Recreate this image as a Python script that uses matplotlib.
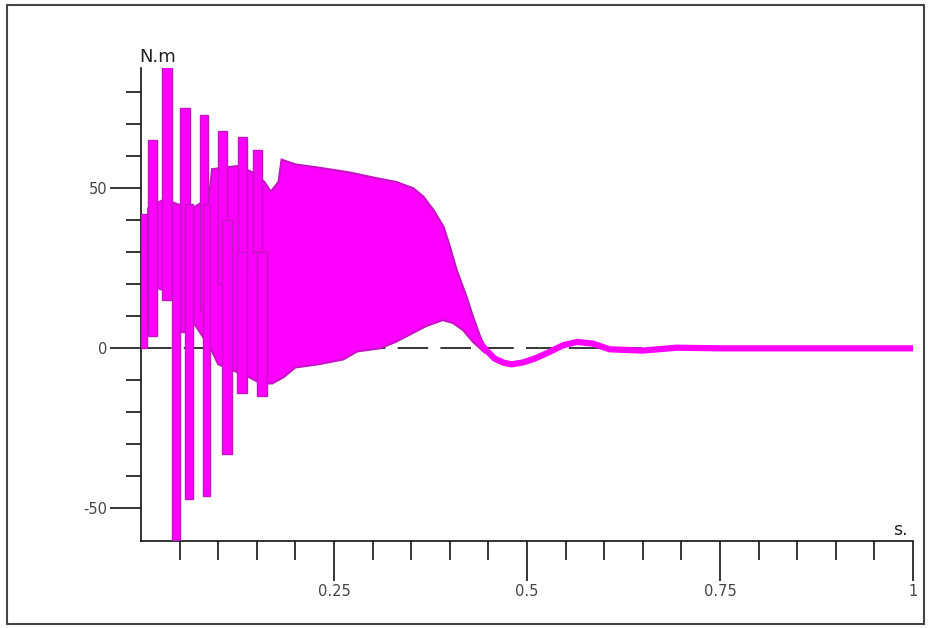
import matplotlib
matplotlib.use("Agg")
import matplotlib.pyplot as plt
from matplotlib.patches import Rectangle
import numpy as np

W, H = 929, 628
MAGENTA = "#ff00ff"
EDGE = "#c414c4"

# early start-up spikes: columns where the torque swings hard
UP_LEFT = [0.009, 0.027, 0.050, 0.076, 0.100, 0.126, 0.145]
UP_RIGHT = [0.021, 0.040, 0.063, 0.087, 0.111, 0.137, 0.157]
UP_TOP = [65, 88, 75, 73, 68, 66, 62]
UP_BOTTOM = [4, 15, 5, 12, 20, 25, 30]

DOWN_LEFT = [0.000, 0.040, 0.057, 0.080, 0.105, 0.124, 0.150]
DOWN_RIGHT = [0.008, 0.050, 0.067, 0.090, 0.118, 0.137, 0.163]
DOWN_TOP = [42, 45, 45, 45, 40, 30, 30]
DOWN_BOTTOM = [0, -60, -47, -46, -33, -14, -15]

# partly filled region between the first spikes
EARLY_T = [0.008, 0.030, 0.050, 0.068]
EARLY_HI = [44, 47, 45, 44]
EARLY_LO = [20, 18, 14, 10]

# envelope of the dense oscillation band
BAND_UP_T = [0.068, 0.088, 0.092, 0.125, 0.145, 0.160, 0.168, 0.178, 0.182, 0.200,
             0.230, 0.270, 0.305, 0.331, 0.353, 0.366, 0.379, 0.392, 0.400, 0.409,
             0.422, 0.430, 0.439, 0.446]
BAND_UP_V = [44, 47, 56, 57, 55, 52, 49, 52, 59, 57.5,
             56.5, 55, 53.2, 52, 50, 47.4, 43.2, 38, 32, 24.5,
             16, 10, 4, 0]
BAND_LO_T = [0.068, 0.090, 0.100, 0.120, 0.140, 0.155, 0.170, 0.185, 0.200, 0.230,
             0.262, 0.280, 0.310, 0.330, 0.350, 0.370, 0.391, 0.404, 0.417, 0.430,
             0.446]
BAND_LO_V = [8, 0, -5, -7, -9, -11, -11, -9, -6, -5,
             -3.5, -1, 0, 2, 4.5, 7, 8.8, 7.9, 5.7, 2,
             -1.5]

# settled tail
TAIL_T = [0.435, 0.445, 0.458, 0.470, 0.480, 0.495, 0.510, 0.526, 0.547, 0.565,
          0.585, 0.607, 0.650, 0.694, 0.750, 1.000]
TAIL_V = [3, 0, -3.2, -4.5, -5, -4.4, -3.2, -1.5, 1, 2,
          1.5, -0.3, -0.7, 0.2, 0, 0]

X_MAJOR = [0.25, 0.5, 0.75, 1.0]
X_LABELS = ["0.25", "0.5", "0.75", "1"]
Y_MAJOR = [-50, 0, 50]
Y_LABELS = ["-50", "0", "50"]


def px(x, y):
    return x / W, 1 - y / H


fig = plt.figure(figsize=(W / 100, H / 100), dpi=100)
left, bottom = px(141, 541)
right, top = px(913, 68)
ax = fig.add_axes([left, bottom, right - left, top - bottom])
ax.set_xlim(0, 1)
ax.set_ylim(-60.2, 87.6)

ax.axhline(0, color="black", lw=1.1, dashes=(20, 8), zorder=1)

ax.fill_between(EARLY_T, EARLY_LO, EARLY_HI, facecolor=MAGENTA, edgecolor=EDGE,
                lw=0.8, zorder=2)

band_t = np.r_[BAND_UP_T, BAND_LO_T[::-1]]
band_v = np.r_[BAND_UP_V, BAND_LO_V[::-1]]
ax.fill(band_t, band_v, facecolor=MAGENTA, edgecolor=EDGE, lw=1.4, zorder=2)

ax.plot(TAIL_T, TAIL_V, color=MAGENTA, lw=4.5, solid_capstyle="butt", zorder=2)

for l, r, lo, hi in zip(UP_LEFT + DOWN_LEFT, UP_RIGHT + DOWN_RIGHT,
                        UP_BOTTOM + DOWN_BOTTOM, UP_TOP + DOWN_TOP):
    ax.bar((l + r) / 2, hi - lo, width=r - l, bottom=lo, color=MAGENTA,
           edgecolor=EDGE, lw=1.0, zorder=3)

for s in ("top", "right"):
    ax.spines[s].set_visible(False)
for s in ("left", "bottom"):
    ax.spines[s].set_linewidth(1.2)
    ax.spines[s].set_color("#111111")

ax.set_xticks(X_MAJOR)
ax.set_xticklabels(X_LABELS)
ax.set_xticks([t for t in np.arange(1, 20) * 0.05 if round(t, 2) not in X_MAJOR], minor=True)
ax.set_yticks(Y_MAJOR)
ax.set_yticklabels(Y_LABELS)
ax.set_yticks([v for v in range(-40, 90, 10) if v not in Y_MAJOR], minor=True)

ax.tick_params(axis="x", which="major", length=29, width=1.1, pad=2,
               labelsize=10.5, labelcolor="#444444")
ax.tick_params(axis="x", which="minor", length=14, width=1.1)
ax.tick_params(axis="y", which="major", length=22, width=1.1, pad=2,
               labelsize=10.5, labelcolor="#444444")
ax.tick_params(axis="y", which="minor", length=11, width=1.1)

fig.text(*px(139, 57), "N.m", fontsize=13, ha="left", va="center", color="#222222")
fig.text(*px(893, 530), "s.", fontsize=12.5, ha="left", va="center", color="#222222")

fig.add_artist(Rectangle(px(7, 624), (924 - 7) / W, (624 - 5) / H,
                         transform=fig.transFigure, fill=False,
                         edgecolor="#444444", lw=1.5))

fig.savefig("out.png", dpi=100)
